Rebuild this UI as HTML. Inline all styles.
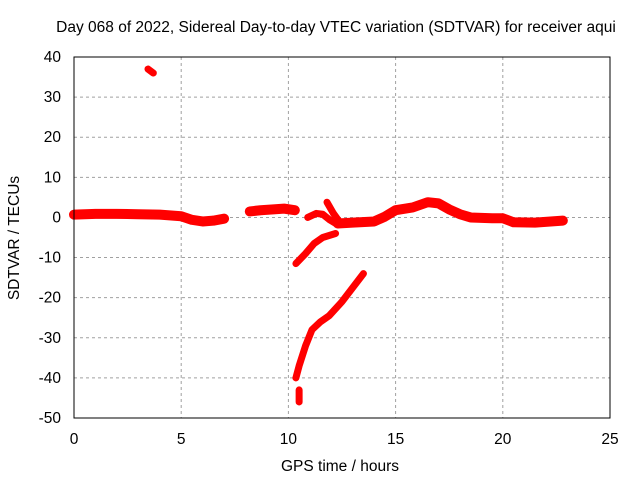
<!DOCTYPE html>
<html><head><meta charset="utf-8"><style>
body{margin:0;background:#fff;width:640px;height:480px;overflow:hidden}
text{font-family:"Liberation Sans",sans-serif;font-size:15.5px;fill:#000}
</style></head><body>
<svg id="chart" width="640" height="480">
<rect width="640" height="480" fill="#fff"/>
<text x="336" y="32" text-anchor="middle">Day 068 of 2022, Sidereal Day-to-day VTEC variation (SDTVAR) for receiver aqui</text>
<text x="340" y="471" text-anchor="middle">GPS time / hours</text>
<text transform="translate(19,238) rotate(-90)" text-anchor="middle">SDTVAR / TECUs</text>
<g id="grid"></g><g id="series"></g>
<rect x="74" y="57" width="536" height="361" fill="none" stroke="#000"/>
<g id="ticks"></g>
</svg>
<script>
const xTicks=[0,5,10,15,20,25];
const yTicks=[40,30,20,10,0,-10,-20,-30,-40,-50];
const seg1=[[0,0.7],[1,0.9],[2,0.9],[3,0.8],[4,0.7],[5,0.3],[5.5,-0.6],[6,-1],[6.5,-0.8],[7,-0.3]];
const seg2=[[8.2,1.5],[8.7,1.8],[9.3,2],[9.8,2.2],[10.3,1.8]];
const seg3=[[10.35,-11.5],[10.8,-9],[11.2,-6.5],[11.6,-5],[12.2,-4]];
const seg4=[[10.9,0],[11.3,1],[11.6,0.8],[11.9,-0.5],[12.3,-1.8]];
const seg5=[[11.8,3.8],[12.1,1],[12.4,-1.2]];
const seg6=[[12.3,-1.5],[13,-1.3],[14,-1],[14.5,0.2],[15,1.8],[15.8,2.5],[16.5,3.8],[17,3.5],[17.5,2],[18,0.8],[18.5,0],[19.5,-0.2],[20,-0.2],[20.5,-1.2],[21.5,-1.3],[22.8,-0.8]];
const seg7=[[10.35,-40],[10.5,-37],[10.8,-32],[11.1,-28],[11.5,-26],[11.9,-24.5],[12.5,-21],[13,-17.5],[13.5,-14]];
const seg8=[[10.5,-43],[10.5,-46]];
const seg9=[[3.45,37],[3.7,36]];
const X=h=>74+h*536/25, Y=v=>57+(40-v)*361/90;
const ns="http://www.w3.org/2000/svg";
const g=document.getElementById('grid'),t=document.getElementById('ticks'),s=document.getElementById('series');
function el(n,a,p){const e=document.createElementNS(ns,n);for(const k in a)e.setAttribute(k,a[k]);p.appendChild(e);return e;}
xTicks.forEach(v=>{
 if(v>0&&v<25){const l=el('line',{x1:X(v),x2:X(v),y1:57,y2:418,stroke:'#a0a0a0','stroke-dasharray':'3,3'},g);
 
 }
 const tx=el('text',{x:X(v),y:444,'text-anchor':'middle'},t);tx.textContent=v;
 
 
});
yTicks.forEach(v=>{
 if(v<40&&v>-50){const l=el('line',{x1:74,x2:610,y1:Y(v),y2:Y(v),stroke:'#a0a0a0','stroke-dasharray':'3,3'},g);
 
 }
 const tx=el('text',{x:61,y:Y(v)+5,'text-anchor':'end'},t);tx.textContent=v;
 
 
});
[seg1,seg2,seg3,seg4,seg5,seg6,seg7,seg8,seg9].forEach((sg,i)=>{
 const p=el('polyline',{points:sg.map(d=>X(d[0])+','+Y(d[1])).join(' '),fill:'none',stroke:'#f00','stroke-width':i==0||i==5||i==1?10:7,'stroke-linejoin':'round','stroke-linecap':'round'},s);
 
 
});
</script>
</body></html>
